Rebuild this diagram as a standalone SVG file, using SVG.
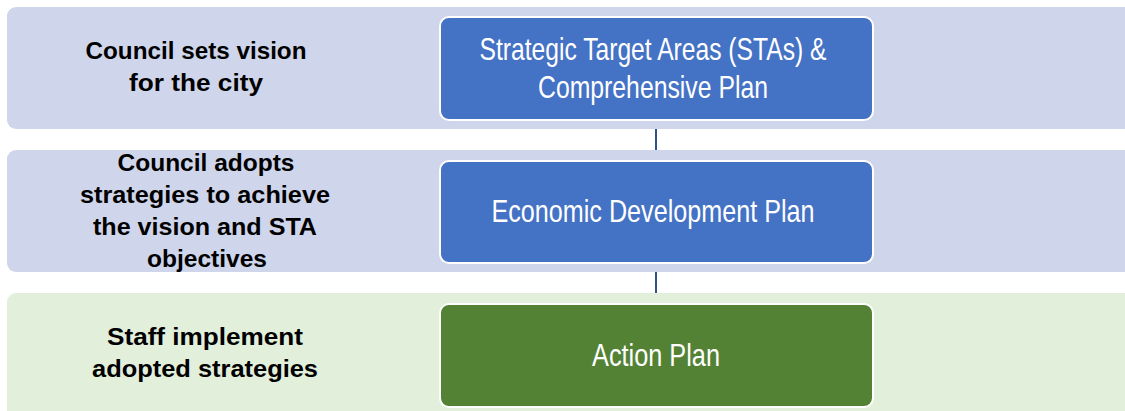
<svg xmlns="http://www.w3.org/2000/svg" width="1125" height="411" viewBox="0 0 1125 411">
<style>
.band-b{fill:#CFD5EA}
.band-g{fill:#E2EFDA}
.box{stroke:#FFFFFF;stroke-width:2}
.blue{fill:#4472C4}
.green{fill:#548235}
.lbl{font-family:"Liberation Sans",Arial,sans-serif;font-weight:bold;font-size:24px;fill:#000000;text-anchor:middle}
.title{font-family:"Liberation Sans",Arial,sans-serif;font-size:32px;fill:#FFFFFF;text-anchor:middle}
.conn{stroke:#2F528F;stroke-width:2;fill:none}
</style>
<g id="connectors">
<line class="conn" x1="656" y1="120" x2="656" y2="161"/>
<line class="conn" x1="656" y1="263" x2="656" y2="304"/>
</g>
<g id="band1">
<rect class="band-b" x="7" y="7" width="1130" height="122" rx="9"/>
<text class="lbl" x="196" y="59" textLength="221" lengthAdjust="spacingAndGlyphs">Council sets vision</text>
<text class="lbl" x="196" y="91" textLength="134" lengthAdjust="spacingAndGlyphs">for the city</text>
</g>
<g id="band2">
<rect class="band-b" x="7" y="150" width="1130" height="122" rx="9"/>
<text class="lbl" x="206" y="171" textLength="177" lengthAdjust="spacingAndGlyphs">Council adopts</text>
<text class="lbl" x="205" y="203" textLength="250" lengthAdjust="spacingAndGlyphs">strategies to achieve</text>
<text class="lbl" x="205" y="235" textLength="224" lengthAdjust="spacingAndGlyphs">the vision and STA</text>
<text class="lbl" x="207" y="267" textLength="120" lengthAdjust="spacingAndGlyphs">objectives</text>
</g>
<g id="band3">
<rect class="band-g" x="7" y="293" width="1130" height="130" rx="9"/>
<text class="lbl" x="205" y="345" textLength="196" lengthAdjust="spacingAndGlyphs">Staff implement</text>
<text class="lbl" x="205" y="377" textLength="226" lengthAdjust="spacingAndGlyphs">adopted strategies</text>
</g>
<g id="node-sta">
<rect class="box blue" x="440" y="17" width="433" height="103" rx="9"/>
<text class="title" x="653" y="60" textLength="347" lengthAdjust="spacingAndGlyphs">Strategic Target Areas (STAs) &amp;</text>
<text class="title" x="653" y="98" textLength="230" lengthAdjust="spacingAndGlyphs">Comprehensive Plan</text>
</g>
<g id="node-edp">
<rect class="box blue" x="440" y="161" width="433" height="102" rx="9"/>
<text class="title" x="653" y="222" font-size="31" textLength="323" lengthAdjust="spacingAndGlyphs">Economic Development Plan</text>
</g>
<g id="node-action">
<rect class="box green" x="440" y="304" width="433" height="103" rx="9"/>
<text class="title" x="656" y="366" textLength="128" lengthAdjust="spacingAndGlyphs">Action Plan</text>
</g>
</svg>
